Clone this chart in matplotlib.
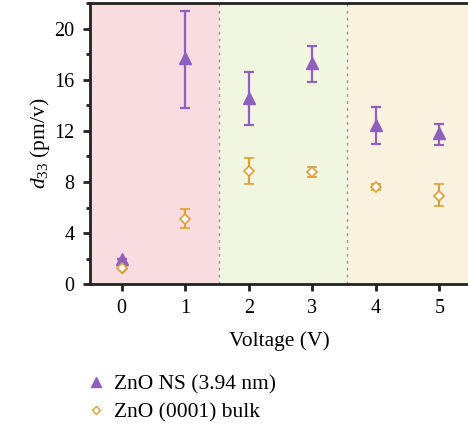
import matplotlib.pyplot as plt
from matplotlib.ticker import MultipleLocator
from matplotlib.lines import Line2D

plt.rcParams['font.family'] = ['Liberation Serif', 'DejaVu Serif']
plt.rcParams['mathtext.fontset'] = 'custom'
plt.rcParams['mathtext.it'] = 'Liberation Serif:italic'
plt.rcParams['mathtext.rm'] = 'Liberation Serif'

voltage = [0, 1, 2, 3, 4, 5]
ns_d33 = [2.0, 17.7, 14.6, 17.3, 12.45, 11.8]
ns_lo = [0.0, 3.9, 2.15, 1.5, 1.45, 0.9]
ns_hi = [0.0, 3.7, 2.0, 1.3, 1.4, 0.7]
bulk_d33 = [1.3, 5.1, 8.85, 8.8, 7.6, 6.9]
bulk_lo = [0.0, 0.7, 1.05, 0.4, 0.2, 0.8]
bulk_hi = [0.0, 0.8, 1.05, 0.4, 0.2, 0.9]
regions = [(-0.5, 1.53, '#f9dcdf'), (1.53, 3.55, '#f1f6e1'), (3.55, 5.45, '#faf1df')]
labels = ['ZnO NS (3.94 nm)', 'ZnO (0001) bulk']

purple = '#9060bd'
orange = '#d9a13b'

fig = plt.figure(figsize=(4.68, 4.28), dpi=100)
ax = fig.add_axes([0.192, 0.336, 0.808, 0.657])

for x0, x1, c in regions:
    ax.axvspan(x0, x1, color=c, lw=0, zorder=0)
for xv in [1.53, 3.55]:
    ax.axvline(xv, color='#999999', ls=(0, (2, 3)), lw=1, zorder=1)

ax.errorbar(voltage, ns_d33, yerr=[ns_lo, ns_hi], fmt='^', color=purple,
            ms=9, capsize=3.5, elinewidth=1.6, capthick=1.6, zorder=3)
ax.errorbar(voltage, bulk_d33, yerr=[bulk_lo, bulk_hi], fmt='D', color=orange,
            mfc='white', mec=orange, mew=1.2, ms=5, capsize=3.5, elinewidth=1.6,
            capthick=1.6, zorder=3)
# filled bulk point at 0 V
ax.plot([0], [bulk_d33[0]], 'D', color=orange, ms=5, zorder=3)

ax.set_xlim(-0.5, 5.45)
ax.set_ylim(0, 22)
ax.set_xticks(voltage)
ax.yaxis.set_major_locator(MultipleLocator(4))
ax.yaxis.set_minor_locator(MultipleLocator(2))
ax.tick_params(direction='out', width=2, length=5, labelsize=14.5, pad=6, color='#222222')
ax.tick_params(which='minor', direction='out', width=2, length=3, color='#222222')
for s in ax.spines.values():
    s.set_linewidth(2)
    s.set_color('#222222')
ax.spines['right'].set_visible(False)

ax.set_xlabel('Voltage (V)', fontsize=15.5, labelpad=9)
ax.set_ylabel(r'$d_{33}$ (pm/v)', fontsize=15.5, labelpad=2)

h1 = Line2D([], [], marker='^', color=purple, ls='none', ms=7)
h2 = Line2D([], [], marker='D', color=orange, mfc='white', mew=1, ls='none', ms=4)
fig.legend([h1, h2], labels, loc='upper left', bbox_to_anchor=(0.14, 0.17),
           frameon=False, fontsize=15.5, handlelength=1, handletextpad=0.35, labelspacing=0.35)

fig.savefig('out.png', dpi=100)
